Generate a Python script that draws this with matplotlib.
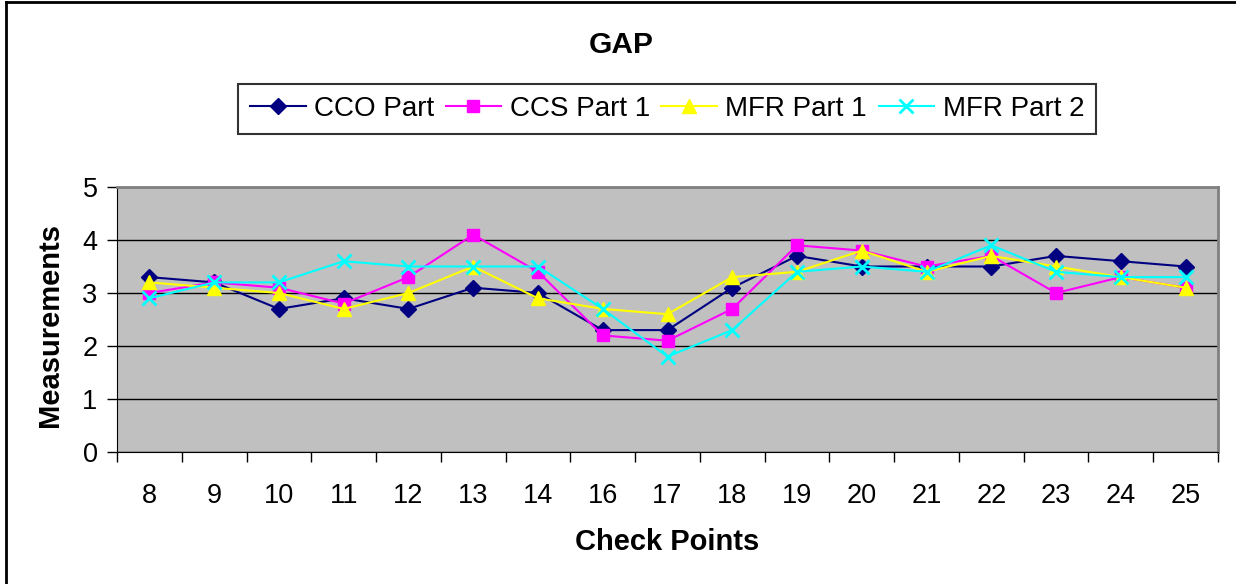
import matplotlib

matplotlib.use("Agg")
import matplotlib.pyplot as plt
from matplotlib.lines import Line2D

plt.rcParams["font.family"] = ["Liberation Sans", "DejaVu Sans"]

check_points = ["8", "9", "10", "11", "12", "13", "14", "16", "17",
                "18", "19", "20", "21", "22", "23", "24", "25"]
cco_part = [3.3, 3.2, 2.7, 2.9, 2.7, 3.1, 3.0, 2.3, 2.3, 3.1, 3.7, 3.5, 3.5, 3.5, 3.7, 3.6, 3.5]
ccs_part1 = [3.0, 3.2, 3.1, 2.8, 3.3, 4.1, 3.4, 2.2, 2.1, 2.7, 3.9, 3.8, 3.5, 3.7, 3.0, 3.3, 3.1]
mfr_part1 = [3.2, 3.1, 3.0, 2.7, 3.0, 3.5, 2.9, 2.7, 2.6, 3.3, 3.4, 3.8, 3.4, 3.7, 3.5, 3.3, 3.1]
mfr_part2 = [2.9, 3.2, 3.2, 3.6, 3.5, 3.5, 3.5, 2.7, 1.8, 2.3, 3.4, 3.5, 3.4, 3.9, 3.4, 3.3, 3.3]

series = [
    ("CCO Part", cco_part, "#000080", "D", 8),
    ("CCS Part 1", ccs_part1, "#FF00FF", "s", 8),
    ("MFR Part 1", mfr_part1, "#FFFF00", "^", 10),
    ("MFR Part 2", mfr_part2, "#00FFFF", "x", 10),
]

fig = plt.figure(figsize=(12.36, 5.84), dpi=100)
ax = fig.add_axes([117 / 1236, 132 / 584, 1101 / 1236, 265 / 584])
ax.set_facecolor("#C0C0C0")

x = list(range(len(check_points)))
for name, vals, color, marker, ms in series:
    ax.plot(x, vals, color=color, marker=marker, markersize=ms, linewidth=1.5,
            markeredgewidth=2 if marker == "x" else 1, label=name, zorder=3)

ax.set_xlim(-0.5, len(check_points) - 0.5)
ax.set_ylim(0, 5)
ax.set_yticks(range(6))
ax.yaxis.grid(True, color="black", linewidth=1)
ax.set_axisbelow(True)

ax.set_xticks(x)
ax.set_xticklabels(check_points)
ax.set_xticks([i - 0.5 for i in range(len(check_points) + 1)], minor=True)
ax.tick_params(axis="x", which="major", length=0, pad=22, labelsize=19.5)
ax.tick_params(axis="x", which="minor", length=7, width=1, direction="out")
ax.tick_params(axis="y", length=7, width=1, labelsize=19.5, pad=7)

for s in ("top", "right"):
    ax.spines[s].set_color("#808080")
    ax.spines[s].set_linewidth(2)
for s in ("left", "bottom"):
    ax.spines[s].set_color("black")

fig.text(621 / 1236, 1 - 45 / 584, "GAP", ha="center", va="center",
         fontsize=21.5, fontweight="bold")
fig.text(50 / 1236, 1 - 325 / 584, "Measurements", ha="center", va="center",
         rotation=90, fontsize=21, fontweight="bold")
fig.text(667 / 1236, 1 - 542 / 584, "Check Points", ha="center", va="center",
         fontsize=21, fontweight="bold")

leg = fig.legend(loc="center", bbox_to_anchor=(667 / 1236, 1 - 109 / 584), ncol=4,
                 fontsize=20, frameon=True, fancybox=False, handlelength=2.0,
                 handletextpad=0.3, columnspacing=0.42, borderpad=0.42,
                 borderaxespad=0, edgecolor="black")
leg.get_frame().set_linewidth(1.5)

# outer chart border (left and top edges visible)
fig.add_artist(Line2D([6 / 1236, 6 / 1236], [0, 1 - 2 / 584], color="black",
                      linewidth=2, transform=fig.transFigure))
fig.add_artist(Line2D([6 / 1236, 1], [1 - 2 / 584, 1 - 2 / 584], color="black",
                      linewidth=2, transform=fig.transFigure))

fig.savefig("out.png", dpi=100)
